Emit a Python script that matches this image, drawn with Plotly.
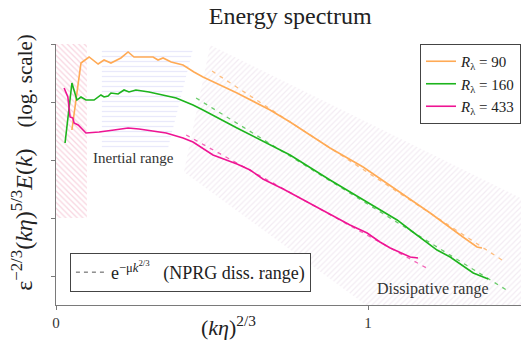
import plotly.graph_objects as go

# x = (k eta)^(2/3), y = log10 of compensated spectrum (arbitrary offset)
x90 = [0.051, 0.080, 0.106, 0.135, 0.154, 0.176, 0.208, 0.231, 0.250, 0.279, 0.311, 0.327, 0.343,
       0.369, 0.407, 0.442, 0.471, 0.580, 0.686, 0.750, 0.878, 0.984, 1.093, 1.199, 1.304, 1.349, 1.365]
y90 = [2.517, 3.672, 3.776, 3.655, 3.724, 3.672, 3.759, 3.862, 3.776, 3.776, 3.776, 3.724, 3.759,
       3.690, 3.638, 3.517, 3.431, 3.155, 2.862, 2.655, 2.207, 1.879, 1.483, 1.086, 0.672, 0.500, 0.483]

x160 = [0.029, 0.051, 0.067, 0.080, 0.096, 0.122, 0.144, 0.154, 0.167, 0.176, 0.199, 0.218, 0.234,
        0.256, 0.298, 0.343, 0.385, 0.439, 0.471, 0.580, 0.686, 0.750, 0.878, 0.984, 1.093, 1.135,
        1.221, 1.263, 1.337, 1.385]
y160 = [2.293, 3.328, 3.034, 3.086, 3.034, 3.034, 3.121, 3.086, 3.103, 3.155, 3.138, 3.207, 3.172,
        3.207, 3.172, 3.121, 3.069, 2.948, 2.862, 2.552, 2.259, 2.086, 1.655, 1.310, 0.966, 0.793,
        0.448, 0.328, 0.052, -0.052]

x433 = [0.026, 0.038, 0.045, 0.054, 0.058, 0.071, 0.096, 0.138, 0.186, 0.231, 0.266, 0.311, 0.353,
        0.407, 0.439, 0.503, 0.580, 0.622, 0.663, 0.728, 0.837, 0.942, 0.997, 1.038, 1.071, 1.135, 1.160]
y433 = [3.241, 3.086, 2.741, 2.724, 2.638, 2.603, 2.466, 2.483, 2.517, 2.552, 2.534, 2.500, 2.466,
        2.379, 2.310, 2.086, 1.931, 1.828, 1.672, 1.500, 1.190, 0.879, 0.741, 0.586, 0.483, 0.328, 0.310]

# NPRG dissipative-range fits (straight lines in these coordinates)
fit90_x = [0.500, 1.439]
fit90_y = [3.534, 0.241]
fit160_x = [0.449, 1.449]
fit160_y = [3.069, -0.259]
fit433_x = [0.417, 1.199]
fit433_y = [2.431, 0.103]

# shaded ranges
left_x = [0.0, 0.099, 0.099, 0.0, 0.0]
left_y = [1.0, 1.0, 4.0, 4.0, 1.0]
inert_x = [0.147, 0.439, 0.359, 0.147, 0.147]
inert_y = [3.914, 3.914, 2.207, 2.207, 3.914]
diss_x = [0.494, 1.60, 1.60, 1.12, 0.410, 0.494]
diss_y = [3.983, 1.05, -1.0, -1.0, 1.793, 3.983]

series_names = ["<i>R</i><sub>λ</sub> = 90", "<i>R</i><sub>λ</sub> = 160", "<i>R</i><sub>λ</sub> = 433"]
colors = ["#FFAA55", "#1DB41D", "#EE1493"]
fit_colors = ["rgba(255,170,85,0.75)", "rgba(29,180,29,0.65)", "rgba(238,20,147,0.65)"]

SERIF = "Liberation Serif, DejaVu Serif, serif"

fig = go.Figure()

# hatched regions
fig.add_trace(go.Scatter(x=diss_x, y=diss_y, mode="lines", line=dict(width=0), fill="toself",
                         fillcolor="rgba(0,0,0,0)", showlegend=False, hoverinfo="skip",
                         fillpattern=dict(shape="/", fgcolor="#e8dae8", size=4, solidity=0.3)))
fig.add_trace(go.Scatter(x=left_x, y=left_y, mode="lines", line=dict(width=0), fill="toself",
                         fillcolor="rgba(0,0,0,0)", showlegend=False, hoverinfo="skip",
                         fillpattern=dict(shape="\\", fgcolor="#f2a9c0", size=4, solidity=0.3)))
fig.add_trace(go.Scatter(x=inert_x, y=inert_y, mode="lines", line=dict(width=0), fill="toself",
                         fillcolor="rgba(0,0,0,0)", showlegend=False, hoverinfo="skip",
                         fillpattern=dict(shape="-", fgcolor="#d4d4f8", size=5, solidity=0.25)))

# fits
for fx, fy, c in [(fit90_x, fit90_y, fit_colors[0]), (fit160_x, fit160_y, fit_colors[1]),
                  (fit433_x, fit433_y, fit_colors[2])]:
    fig.add_trace(go.Scatter(x=fx, y=fy, mode="lines", showlegend=False, hoverinfo="skip",
                             line=dict(color=c, width=1.3, dash="4px,5px")))

# spectra
for xs, ys, name, c in [(x90, y90, series_names[0], colors[0]),
                        (x160, y160, series_names[1], colors[1]),
                        (x433, y433, series_names[2], colors[2])]:
    fig.add_trace(go.Scatter(x=xs, y=ys, mode="lines", name=name, line=dict(color=c, width=1.6)))

# legend entry for fits
fig.add_trace(go.Scatter(x=[None], y=[None], mode="lines", legend="legend2",
                         name="e<sup>−μ<i>k</i><sup>2/3</sup></sup>\u00a0\u00a0\u00a0(NPRG diss. range)",
                         line=dict(color="#555555", width=1, dash="4px,4px")))

axis_common = dict(showline=True, linecolor="#7a7a7a", linewidth=1.4, showgrid=False, zeroline=False,
                   ticks="outside", ticklen=4, tickcolor="#7a7a7a", tickwidth=1)

fig.update_layout(
    width=521, height=342,
    margin=dict(l=56, r=0, t=44, b=37),
    plot_bgcolor="white", paper_bgcolor="white",
    font=dict(family=SERIF, color="#222222"),
    title=dict(text="Energy spectrum", x=0.557, xanchor="center", y=0.953, yanchor="middle",
               font=dict(family=SERIF, size=24, color="#222222")),
    xaxis=dict(range=[0, 1.49], tickvals=[0, 1], ticktext=["0", "1"],
               tickfont=dict(family=SERIF, size=15, color="#333333"), **axis_common),
    yaxis=dict(range=[-0.5, 4.0], tickvals=[0, 1, 2, 3, 4], showticklabels=False, **axis_common),
    legend=dict(x=1.0, xanchor="right", y=1.0, yanchor="top", bgcolor="white",
                bordercolor="#444444", borderwidth=1, font=dict(family=SERIF, size=15, color="#222222"),
                tracegroupgap=0, itemwidth=30),
    legend2=dict(x=0.03, xanchor="left", y=0.05, yanchor="bottom", bgcolor="white",
                 bordercolor="#444444", borderwidth=1, font=dict(family=SERIF, size=18, color="#222222")),
    annotations=[
        dict(text="Inertial range", x=0.247, y=2.034, xref="x", yref="y", showarrow=False,
             font=dict(family=SERIF, size=15, color="#333333")),
        dict(text="Dissipative range", x=1.208, y=-0.224, xref="x", yref="y", showarrow=False,
             font=dict(family=SERIF, size=16, color="#333333")),
        dict(text="(<i>kη</i>)<sup>2/3</sup>", x=0.372, y=-0.082, xref="paper", yref="paper",
             showarrow=False, yanchor="middle", font=dict(family=SERIF, size=22, color="#222222")),
        dict(text="<span style='font-size:24px'>ε<sup>−2/3</sup>(<i>kη</i>)<sup>5/3</sup><i>E</i>(<i>k</i>)</span>"
                  "\u00a0\u00a0\u00a0\u00a0(log. scale)",
             x=-0.073, y=0.545, xref="paper", yref="paper", textangle=-90, showarrow=False,
             xanchor="center", yanchor="middle", font=dict(family=SERIF, size=21, color="#222222")),
    ],
)

fig.write_html("out.html", config={"displayModeBar": False},
               post_script="document.body.style.margin='0';document.body.style.overflow='hidden';")
